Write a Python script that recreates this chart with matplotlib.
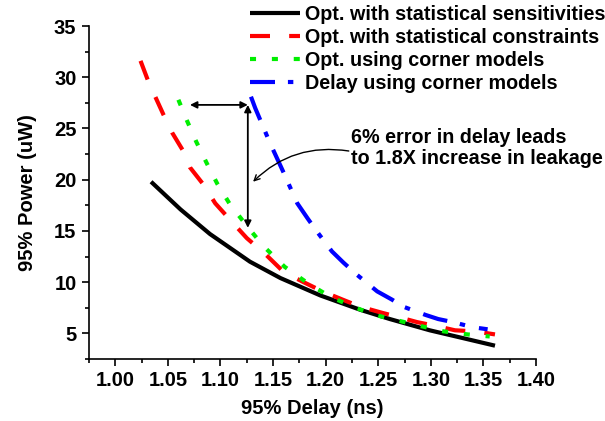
import numpy as np
import matplotlib
matplotlib.use("Agg")
import matplotlib.pyplot as plt

plt.rcParams['font.family'] = ['Liberation Sans', 'DejaVu Sans']
plt.rcParams['font.weight'] = 'bold'

# data
sens_x = [1.034, 1.062, 1.090, 1.128, 1.157, 1.195, 1.233, 1.261, 1.299, 1.328, 1.361]
sens_y = [19.8, 17.1, 14.7, 12.0, 10.4, 8.7, 7.3, 6.4, 5.3, 4.6, 3.8]

cons_x = [1.024, 1.031, 1.038, 1.046, 1.054, 1.064, 1.071, 1.084, 1.095, 1.109, 1.125, 1.143,
          1.160, 1.179, 1.197, 1.216, 1.233, 1.254, 1.269, 1.287, 1.306, 1.323, 1.342, 1.361]
cons_y = [31.6, 29.7, 28.1, 26.3, 24.6, 22.9, 21.2, 19.5, 17.7, 16.1, 14.3, 12.7,
          11.0, 10.0, 9.1, 8.3, 7.6, 7.0, 6.6, 6.1, 5.7, 5.3, 5.2, 4.9]

corn_x = [1.060, 1.068, 1.077, 1.087, 1.097, 1.109, 1.125, 1.141, 1.161, 1.183, 1.204, 1.226,
          1.247, 1.271, 1.291, 1.312, 1.335, 1.356]
corn_y = [27.8, 25.8, 23.7, 21.6, 19.6, 17.6, 15.5, 13.5, 11.5, 9.9, 8.6, 7.6,
          6.8, 6.2, 5.7, 5.2, 4.9, 4.7]

delay_x = [1.129, 1.133, 1.147, 1.160, 1.173, 1.183, 1.192, 1.206, 1.217, 1.230, 1.249,
           1.263, 1.274, 1.295, 1.307, 1.321, 1.340, 1.354]
delay_y = [28.1, 27.0, 23.6, 20.7, 17.7, 16.2, 14.9, 13.0, 11.9, 10.7, 9.1,
           8.3, 7.6, 6.8, 6.4, 6.1, 5.6, 5.4]

labels = ["Opt. with statistical sensitivities",
          "Opt. with statistical constraints",
          "Opt. using corner models",
          "Delay using corner models"]

fig = plt.figure(figsize=(6.05, 4.21), dpi=100)
ax = fig.add_axes([89/605, 62/421, 447/605, 333/421])

ax.plot(sens_x, sens_y, color='black', lw=3, label=labels[0], solid_capstyle='butt')
ax.plot(cons_x, cons_y, color='red', lw=3, dashes=(4.8, 4.6), label=labels[1])
ax.plot(corn_x, corn_y, color='#00ee00', lw=3, dashes=(1.45, 3.8), label=labels[2])
ax.plot(delay_x, delay_y, color='blue', lw=3, dashes=(6, 3.1, 1.3, 3.4), label=labels[3])

ax.set_xlim(0.975, 1.40)
ax.set_ylim(2.5, 35)
ax.set_xticks(np.arange(1.00, 1.401, 0.05))
ax.set_xticks(np.arange(0.975, 1.401, 0.025), minor=True)
ax.set_yticks([5, 10, 15, 20, 25, 30, 35])
ax.set_yticks(np.arange(2.5, 35.1, 2.5), minor=True)
ax.tick_params(which='major', direction='out', length=5, width=1.2, labelsize=14.5, pad=4)
ax.tick_params(which='minor', direction='out', length=3, width=1.2)
for s in ['top', 'right']:
    ax.spines[s].set_visible(False)
for s in ['left', 'bottom']:
    ax.spines[s].set_linewidth(1.2)
for t in ax.get_xticklabels() + ax.get_yticklabels():
    t.set_fontweight('bold')

ax.set_xlabel("95% Delay (ns)", fontsize=14.5, fontweight='bold', labelpad=6)
ax.set_ylabel("95% Power (uW)", fontsize=14.5, fontweight='bold', labelpad=12)

# arrows
ax.annotate("", xy=(1.071, 27.3), xytext=(1.126, 27.3),
            arrowprops=dict(arrowstyle='<|-|>', color='black', lw=1.3, mutation_scale=10,
                            shrinkA=0, shrinkB=0))
ax.annotate("", xy=(1.126, 15.3), xytext=(1.126, 27.3),
            arrowprops=dict(arrowstyle='<|-|>', color='black', lw=1.3, mutation_scale=10,
                            shrinkA=0, shrinkB=0))
ax.annotate("", xy=(1.131, 19.8), xytext=(1.222, 22.8),
            arrowprops=dict(arrowstyle='->', color='black', lw=1.0,
                            connectionstyle='arc3,rad=0.25', shrinkA=0, shrinkB=0))
ax.text(1.224, 23.1, "6% error in delay leads\nto 1.8X increase in leakage",
        fontsize=14.2, fontweight='bold', ha='left', va='center',
        linespacing=1.12, clip_on=False)

leg = fig.legend(loc='upper left', bbox_to_anchor=(250/605, 1 - 5/421), frameon=False,
                 prop={'size': 14.2, 'weight': 'bold'}, handlelength=2.55,
                 handletextpad=0.22, labelspacing=0.2, borderpad=0, borderaxespad=0)

fig.savefig("out.png", dpi=100)
